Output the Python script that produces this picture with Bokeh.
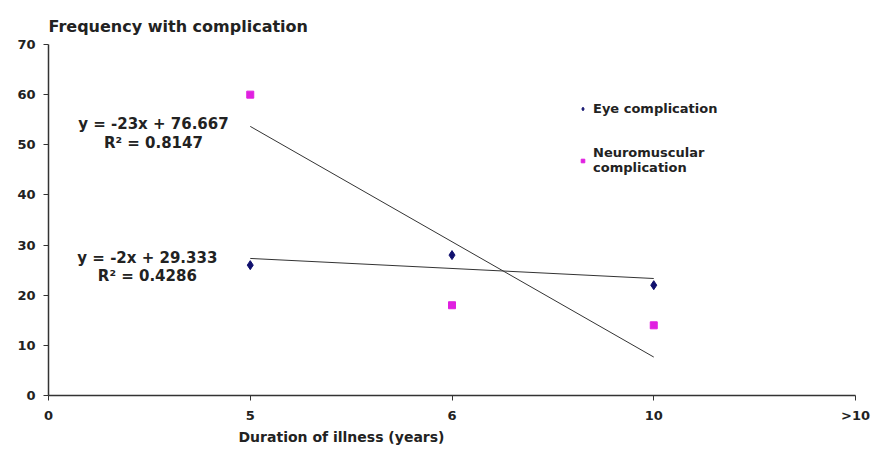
from bokeh.plotting import figure
from bokeh.models import (Range1d, FixedTicker, Label, Legend, LegendItem, ColumnDataSource, Title)
from bokeh.embed import file_html
from bokeh.resources import INLINE

# ---- data ----
x_tick_labels = ["0", "5", "6", "10", ">10"]
duration_cats = ["5", "6", "10"]
eye_values = [26, 28, 22]
neuro_values = [60, 18, 14]
eye_eq = "y = -2x + 29.333"
eye_r2 = "R\u00b2 = 0.4286"
neuro_eq = "y = -23x + 76.667"
neuro_r2 = "R\u00b2 = 0.8147"
y_title = "Frequency with  complication"
x_title = "Duration of illness (years)"

FONT = "DejaVu Sans"
TXT = "#222222"

xs = [x_tick_labels.index(c) for c in duration_cats]

def linfit(x, y):
    n = len(x)
    mx = sum(x) / n
    my = sum(y) / n
    b = sum((a - mx) * (c - my) for a, c in zip(x, y)) / sum((a - mx) ** 2 for a in x)
    return b, my - b * mx

p = figure(width=878, height=452, output_backend="svg", toolbar_location=None,
           x_range=Range1d(0, 4), y_range=Range1d(0, 70),
           min_border_left=48, min_border_right=23, min_border_top=44, min_border_bottom=57)
p.outline_line_color = None
p.grid.visible = False

p.title.text = y_title
p.title.align = "left"
p.title.text_font = FONT
p.title.text_font_style = "bold"
p.title.text_font_size = "16px"
p.title.text_color = TXT
p.title.standoff = 17

for ax in (p.xaxis[0], p.yaxis[0]):
    ax.axis_line_color = "#333333"
    ax.axis_line_width = 1.5
    ax.major_tick_line_color = "#333333"
    ax.major_tick_out = 5
    ax.major_tick_in = 0
    ax.minor_tick_line_color = None
    ax.major_label_text_font = FONT
    ax.major_label_text_font_style = "bold"
    ax.major_label_text_font_size = "13px"
    ax.major_label_text_color = TXT

p.xaxis.ticker = FixedTicker(ticks=list(range(len(x_tick_labels))))
p.xaxis.major_label_overrides = {i: t for i, t in enumerate(x_tick_labels)}
p.xaxis.major_label_standoff = 7
p.yaxis.ticker = FixedTicker(ticks=list(range(0, 71, 10)))
p.yaxis.major_label_standoff = 8

p.add_layout(Title(text=x_title, align="left", offset=190, text_font=FONT,
                   text_font_style="bold", text_font_size="14px", text_color=TXT,
                   standoff=3), "below")

for vals in (neuro_values, eye_values):
    b, a = linfit(xs, vals)
    x0, x1 = min(xs), max(xs)
    p.line([x0, x1], [a + b * x0, a + b * x1], line_color="#333333", line_width=1)

eye_src = ColumnDataSource(dict(x=xs, y=eye_values))
neuro_src = ColumnDataSource(dict(x=xs, y=neuro_values))
r_eye = p.scatter("x", "y", source=eye_src, marker="diamond", size=9,
                  fill_color="#10106e", line_color="#10106e")
r_neuro = p.scatter("x", "y", source=neuro_src, marker="square", size=7,
                    fill_color="#e020e0", line_color="#e020e0")

legend = Legend(items=[LegendItem(label="Eye complication", renderers=[r_eye]),
                       LegendItem(label="Neuromuscular\ncomplication", renderers=[r_neuro])],
                location=(530, 220), border_line_color=None, background_fill_alpha=0,
                glyph_width=9, glyph_height=9, label_standoff=6, spacing=29, padding=0,
                label_text_font=FONT, label_text_font_style="bold", label_text_font_size="13px",
                label_text_color=TXT)
p.add_layout(legend)

def lab(x, y, t, size="15px"):
    p.add_layout(Label(x=x, y=y, text=t, text_font=FONT, text_font_style="bold",
                       text_font_size=size, text_color=TXT, text_align="center",
                       text_baseline="middle"))

lab(0.52, 54.2, neuro_eq)
lab(0.52, 50.3, neuro_r2)
lab(0.49, 27.5, eye_eq)
lab(0.49, 23.9, eye_r2)

open("out.html", "w").write(file_html(p, INLINE))
